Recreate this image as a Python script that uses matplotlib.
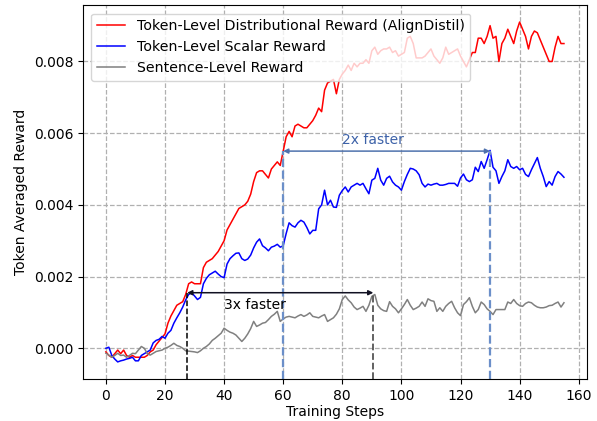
import numpy as np
import matplotlib
matplotlib.use("Agg")
import matplotlib.pyplot as plt

# Данные (в единицах 1e-3)
steps = np.arange(156)

distributional = [
    -0.1, -0.2, -0.25, -0.15, -0.05, -0.15, -0.05, -0.2, -0.25, -0.2,
    -0.25, -0.25, -0.25, -0.25, -0.2, -0.1, -0.05, 0.1, 0.2, 0.3,
    0.4, 0.7, 0.9, 1.05, 1.2, 1.25, 1.3, 1.5, 1.8, 1.85,
    1.8, 1.8, 1.8, 2.25, 2.4, 2.45, 2.5, 2.6, 2.7, 2.85,
    3.0, 3.3, 3.45, 3.6, 3.75, 3.9, 3.95, 4.0, 4.1, 4.3,
    4.65, 4.9, 4.95, 4.95, 4.85, 4.75, 5.0, 5.1, 5.2, 5.1,
    5.5, 5.9, 6.05, 5.9, 6.2, 6.25, 6.2, 6.15, 6.15, 6.25,
    6.35, 6.5, 6.7, 6.6, 7.2, 7.4, 7.45, 7.5, 7.1, 7.5,
    7.65, 7.75, 7.9, 7.75, 7.95, 7.85, 7.95, 7.95, 8.05, 7.95,
    8.3, 8.4, 8.2, 8.3, 8.35, 8.35, 8.4, 8.25, 8.3, 8.15,
    8.2, 8.25, 8.65, 8.7, 8.5, 8.1, 8.1, 8.1, 8.15, 8.25,
    8.35, 8.15, 8.05, 7.95, 8.1, 8.4, 8.2, 8.25, 8.3, 8.35,
    8.15, 8.0, 7.85, 8.05, 8.25, 8.25, 8.65, 8.65, 8.5, 8.7,
    9.0, 8.65, 8.7, 8.0, 8.5, 8.65, 8.9, 8.7, 8.5, 8.85,
    9.1, 8.9, 8.7, 8.35, 8.7, 8.85, 8.8, 8.6, 8.4, 8.2,
    8.0, 8.0, 8.4, 8.7, 8.5, 8.5,
]

scalar = [
    0.0, 0.03, -0.2, -0.3, -0.38, -0.35, -0.33, -0.3, -0.28, -0.25,
    -0.35, -0.35, -0.2, -0.15, -0.1, -0.05, 0.15, 0.22, 0.25, 0.33,
    0.28, 0.42, 0.5, 0.7, 0.85, 0.99, 1.15, 1.35, 1.5, 1.55,
    1.46, 1.36, 1.42, 1.8, 1.95, 2.05, 2.1, 2.15, 2.07, 2.0,
    1.97, 2.35, 2.5, 2.58, 2.65, 2.66, 2.5, 2.45, 2.49, 2.6,
    2.8, 2.96, 3.05, 2.86, 2.8, 2.72, 2.82, 2.85, 2.9, 2.82,
    2.86, 3.2, 3.5, 3.42, 3.38, 3.5, 3.57, 3.52, 3.37, 3.19,
    3.29, 3.29, 3.89, 4.0, 4.41, 4.0, 4.13, 3.94, 3.93, 4.27,
    4.4, 4.5, 4.36, 4.5, 4.55, 4.6, 4.55, 4.6, 4.45, 4.31,
    4.69, 4.74, 5.02, 4.69, 4.55, 4.74, 4.8, 4.64, 4.55, 4.5,
    4.41, 4.65, 4.85, 5.02, 5.0, 4.95, 4.84, 4.6, 4.5, 4.58,
    4.55, 4.58, 4.6, 4.55, 4.55, 4.57, 4.6, 4.6, 4.6, 4.52,
    4.75, 4.86, 4.7, 4.65, 4.7, 5.05, 4.93, 5.21, 5.02, 5.26,
    5.52, 5.05, 4.95, 4.6, 4.79, 4.95, 5.26, 5.07, 5.02, 5.07,
    4.98, 5.02, 4.85, 4.79, 4.98, 5.15, 5.32, 5.02, 4.79, 4.51,
    4.65, 4.55, 4.79, 4.93, 4.86, 4.77,
]

sentence = [
    -0.14, -0.19, -0.25, -0.2, -0.14, -0.2, -0.19, -0.25, -0.2, -0.14,
    -0.15, -0.05, 0.05, 0.0, -0.15, -0.19, -0.14, -0.09, -0.07, -0.05,
    0.0, 0.03, 0.08, 0.14, 0.08, 0.05, 0.0, -0.07, -0.08, -0.09,
    -0.1, -0.12, -0.07, 0.0, 0.05, 0.12, 0.22, 0.28, 0.35, 0.42,
    0.56, 0.5, 0.45, 0.42, 0.37, 0.28, 0.19, 0.28, 0.4, 0.55,
    0.75, 0.61, 0.65, 0.7, 0.72, 0.8, 0.89, 0.95, 1.03, 0.75,
    0.82, 0.87, 0.89, 0.87, 0.85, 0.9, 0.94, 0.89, 0.93, 0.99,
    0.89, 0.87, 0.85, 0.9, 0.94, 0.75, 0.8, 0.85, 0.95, 1.1,
    1.36, 1.46, 1.35, 1.27, 1.15, 1.08, 1.12, 1.17, 1.03, 1.2,
    1.45, 1.5, 1.2, 1.1, 1.05, 1.03, 1.3, 1.17, 1.1, 0.99,
    1.1, 1.22, 1.36, 1.2, 1.08, 1.12, 1.17, 1.29, 1.17, 1.38,
    1.33, 1.31, 1.03, 1.13, 1.03, 1.17, 1.25, 1.31, 1.13, 0.99,
    0.91, 1.22, 1.3, 1.41, 1.17, 0.99, 1.08, 1.29, 1.22, 1.1,
    1.03, 0.94, 1.08, 1.08, 1.08, 1.08, 1.29, 1.25, 1.36, 1.25,
    1.19, 1.17, 1.25, 1.29, 1.27, 1.2, 1.15, 1.13, 1.13, 1.15,
    1.19, 1.2, 1.25, 1.29, 1.15, 1.27,
]

distributional = np.array(distributional) * 1e-3
scalar = np.array(scalar) * 1e-3
sentence = np.array(sentence) * 1e-3

# Отметки "быстрее"
fast3_x = [27.5, 90.5]
fast3_y = 0.00155
fast2_x = [60, 130]
fast2_y = 0.0055

fig, ax = plt.subplots(figsize=(5.97, 4.21), dpi=100)
fig.subplots_adjust(left=0.139, right=0.983, top=0.988, bottom=0.1)

ax.plot(steps, distributional, color='red', lw=1.1,
        label='Token-Level Distributional Reward (AlignDistil)')
ax.plot(steps, scalar, color='blue', lw=1.1, label='Token-Level Scalar Reward')
ax.plot(steps, sentence, color='gray', lw=1.1, label='Sentence-Level Reward')

ax.grid(True, linestyle='--', color='#b0b0b0', lw=0.9)
ylo, yhi = ax.get_ylim()
xlo, xhi = ax.get_xlim()

blue_dash = '#6b8fc9'
ax.vlines(fast3_x[0], ylo, fast3_y, colors='black', linestyles='--', lw=1.1)
ax.vlines(fast3_x[1], ylo, fast3_y, colors='#555555', linestyles='--', lw=1.3)
ax.vlines(fast2_x, ylo, fast2_y, colors=blue_dash, linestyles='--', lw=1.6)

ax.annotate('', xy=(fast3_x[0], fast3_y), xytext=(fast3_x[1], fast3_y),
            arrowprops=dict(arrowstyle='<|-|>', color='#111122', lw=1.1,
                            mutation_scale=7, shrinkA=0, shrinkB=0))
ax.annotate('', xy=(fast2_x[0], fast2_y), xytext=(fast2_x[1], fast2_y),
            arrowprops=dict(arrowstyle='<|-|>', color='#4f72ad', lw=1.1,
                            mutation_scale=7, shrinkA=0, shrinkB=0))
ax.text(50.5, 0.0012, '3x faster', ha='center', va='center', fontsize=10, color='black')
ax.text(90.5, 0.0058, '2x faster', ha='center', va='center', fontsize=10, color='#3d62a8')

ax.set_ylim(ylo, yhi)
ax.set_xlim(xlo, xhi)
ax.set_xlabel('Training Steps', fontsize=10, labelpad=2)
ax.set_ylabel('Token Averaged Reward', fontsize=10)
ax.tick_params(labelsize=10)
ax.legend(loc='upper left', fontsize=10.2, handlelength=2, borderaxespad=0.6,
          labelspacing=0.5)

plt.savefig('out.png', dpi=100)
